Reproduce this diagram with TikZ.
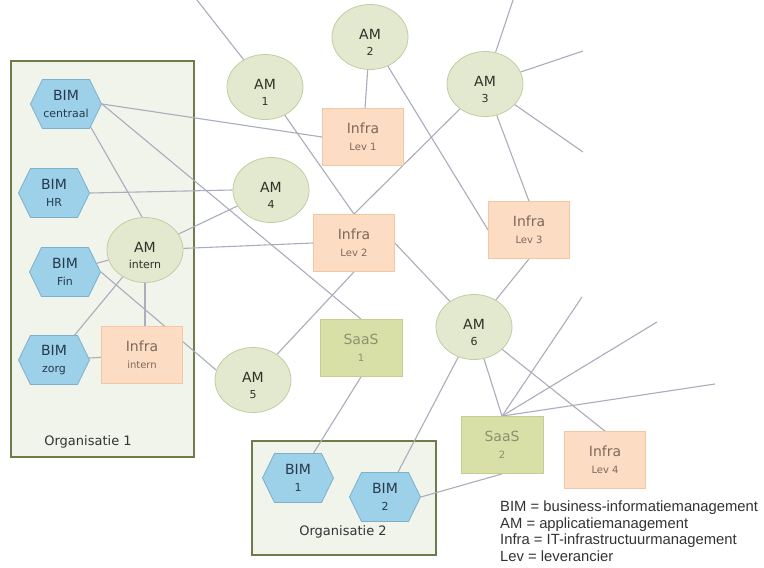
\documentclass[tikz,border=0pt]{standalone}
\usepackage{fontspec}
\setmainfont{DejaVu Sans}
\newfontfamily\legendfont{Liberation Sans}
\usetikzlibrary{shapes.geometric,shapes.symbols}
\definecolor{amfill}{HTML}{E2E9CF}
\definecolor{amdraw}{HTML}{C3CDA2}
\definecolor{bimfill}{HTML}{9DD0E9}
\definecolor{bimdraw}{HTML}{7DB0CB}
\definecolor{infrafill}{HTML}{FCDCC3}
\definecolor{infradraw}{HTML}{F2C7A3}
\definecolor{saasfill}{HTML}{D8E0A8}
\definecolor{saasdraw}{HTML}{C5CE8E}
\definecolor{orgfill}{HTML}{F0F4EA}
\definecolor{orgdraw}{HTML}{6E7C4C}
\definecolor{linkc}{HTML}{ABACBC}
\definecolor{amtext}{HTML}{2E3328}
\definecolor{bimtext}{HTML}{263A4C}
\definecolor{infratext}{HTML}{7D6A5C}
\definecolor{saastext}{HTML}{8B916E}
\definecolor{legtext}{HTML}{333333}
\newcommand{\amlabel}[2]{\rule{0pt}{21pt}#1\\{\fontsize{11}{12}\selectfont #2}}
\newcommand{\bimlabel}[2]{#1\\{\fontsize{11}{12}\selectfont #2}}
\newcommand{\twolabel}[2]{#1\\{\fontsize{10}{12}\selectfont #2}}
\pgfdeclarelayer{bg}
\pgfdeclarelayer{edges}
\pgfsetlayers{bg,edges,main}
\tikzset{
  am/.style={ellipse, draw=amdraw, fill=amfill, line width=0.8pt,
    minimum width=76pt, minimum height=65pt, inner sep=0pt, text=amtext,
    align=center, font=\fontsize{14}{16.5}\selectfont},
  bim/.style={signal, signal to=east and west, signal pointer angle=128,
    draw=bimdraw, fill=bimfill, line width=0.8pt,
    minimum width=71pt, minimum height=49pt, inner sep=0pt, text=bimtext,
    align=center, font=\fontsize{14}{16.5}\selectfont},
  infra/.style={rectangle, draw=infradraw, fill=infrafill, line width=0.8pt,
    minimum width=81pt, minimum height=57pt, inner sep=0pt, text=infratext,
    align=center, font=\fontsize{14}{17}\selectfont},
  saas/.style={rectangle, draw=saasdraw, fill=saasfill, line width=0.8pt,
    minimum width=82pt, minimum height=57pt, inner sep=0pt, text=saastext,
    align=center, font=\fontsize{14}{17}\selectfont},
  orgbox/.style={rectangle, draw=orgdraw, fill=orgfill, line width=2pt, inner sep=0pt},
  orglabel/.style={font=\fontsize{13}{15}\selectfont, text=legtext, inner sep=0pt},
  link/.style={draw=linkc, line width=1.1pt}
}
\begin{document}
\begin{tikzpicture}[x=1pt,y=-1pt]
\useasboundingbox (0,0) rectangle (764,568);

\begin{pgfonlayer}{bg}
\fill[white] (0,0) rectangle (764,568);
\node[orgbox, minimum width=183pt, minimum height=396pt] (org1) at (102.5,259) {};
\node[orgbox, minimum width=184pt, minimum height=114pt] (org2) at (344,498) {};
\end{pgfonlayer}

\node[orglabel] (org1lab) at (88,442) {Organisatie 1};
\node[orglabel] (org2lab) at (343,532) {Organisatie 2};

% AM nodes
\node[am] (AM1) at (265,87) {\amlabel{AM}{1}};
\node[am] (AM2) at (370,37) {\amlabel{AM}{2}};
\node[am] (AM3) at (485,84) {\amlabel{AM}{3}};
\node[am] (AM4) at (271,190) {\amlabel{AM}{4}};
\node[am] (AMi) at (145,250) {\amlabel{AM}{intern}};
\node[am] (AM5) at (253,380) {\amlabel{AM}{5}};
\node[am] (AM6) at (474,327) {\amlabel{AM}{6}};

% BIM nodes
\node[bim] (BIMc) at (66,104) {\bimlabel{BIM}{centraal}};
\node[bim] (BIMhr) at (54,193) {\bimlabel{BIM}{HR}};
\node[bim] (BIMfin) at (65,272) {\bimlabel{BIM}{Fin}};
\node[bim] (BIMzorg) at (54,360) {\bimlabel{BIM}{zorg}};
\node[bim] (BIM1) at (298,478) {\bimlabel{BIM}{1}};
\node[bim] (BIM2) at (385,497) {\bimlabel{BIM}{2}};

% Infra nodes
\node[infra] (Inf1) at (363,137) {\twolabel{Infra}{Lev 1}};
\node[infra] (Inf2) at (354,243) {\twolabel{Infra}{Lev 2}};
\node[infra] (Inf3) at (529,230) {\twolabel{Infra}{Lev 3}};
\node[infra] (Inf4) at (605,460) {\twolabel{Infra}{Lev 4}};
\node[infra] (InfI) at (142,355) {\twolabel{Infra}{intern}};

% SaaS nodes
\node[saas] (SaaS1) at (361,348) {\twolabel{SaaS}{1}};
\node[saas] (SaaS2) at (502,445) {\twolabel{SaaS}{2}};

% free ends
\coordinate (f1) at (197,0);
\coordinate (f2) at (513,0);
\coordinate (f3) at (583,51);
\coordinate (f4) at (583,152);
\coordinate (f5) at (582,297);
\coordinate (f6) at (657,322);
\coordinate (f7) at (715,384);

\begin{pgfonlayer}{edges}
\draw[link] (f1) -- (AM1);
\draw[link] (BIMc.east) -- (Inf1.west);
\draw[link] (BIMc.east) -- (SaaS1.north);
\draw[link] (BIMc.-43) -- (AMi.95);
\draw[link] (BIMhr.east) -- (AM4.west);
\draw[link] (AMi) -- (AM4);
\draw[link] (AMi) -- (Inf2.west);
\draw[link] (AMi.south) -- (InfI.north -| AMi.south);
\draw[link] (AMi) -- (BIMzorg);
\draw[link] (AMi) -- (BIMfin);
\draw[link] (BIMfin.east) -- (AM5.165);
\draw[link] (BIMzorg) -- (InfI);
\draw[link] (AM5) -- (Inf2.south);
\draw[link] (AM1) -- (Inf2.north);
\draw[link] (AM2) -- (Inf1);
\draw[link] (AM2) -- (Inf3.west);
\draw[link] (AM3) -- (Inf2.north);
\draw[link] (AM3) -- (Inf3.north);
\draw[link] (AM3) -- (f2);
\draw[link] (AM3) -- (f3);
\draw[link] (AM3) -- (f4);
\draw[link] (Inf2.east) -- (AM6);
\draw[link] (Inf3.south) -- (AM6);
\draw[link] (AM6) -- (BIM2);
\draw[link] (AM6) -- (SaaS2.north);
\draw[link] (AM6) -- (Inf4.north);
\draw[link] (SaaS1.south) -- (BIM1);
\draw[link] (SaaS2.south) -- (BIM2.east);
\draw[link] (SaaS2.north) -- (f5);
\draw[link] (SaaS2.north) -- (f6);
\draw[link] (SaaS2.north) -- (f7);
\end{pgfonlayer}

\node[anchor=north west, align=left, inner sep=0pt, text=legtext,
  font=\legendfont\fontsize{14.8}{16.5}\selectfont] (legend) at (500,501)
  {BIM = business-informatiemanagement\\AM = applicatiemanagement\\Infra = IT-infrastructuurmanagement\\Lev = leverancier};
\end{tikzpicture}
\end{document}
